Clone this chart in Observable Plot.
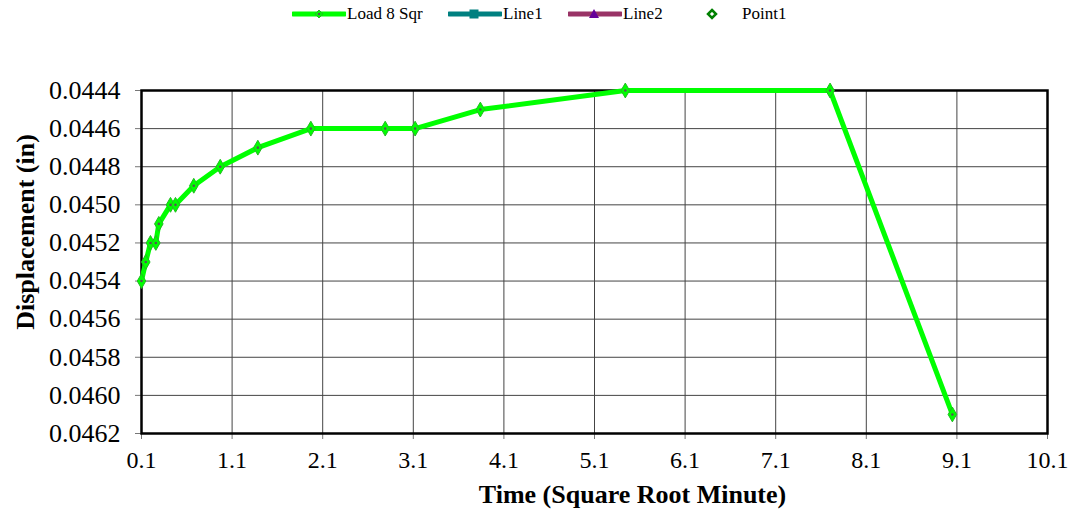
<!DOCTYPE html>
<html>
<head>
<meta charset="utf-8">
<script src="https://cdn.jsdelivr.net/npm/d3@7"></script>
<script src="https://cdn.jsdelivr.net/npm/@observablehq/plot@0.6"></script>
<style>
  html, body { margin: 0; padding: 0; background: #fff; }
  body { width: 1070px; height: 517px; overflow: hidden; font-family: 'Liberation Serif', 'DejaVu Serif', serif; }
  #legend { position: relative; height: 28px; width: 1070px; font-size: 17px; color: #000; }
  .item { position: absolute; top: 2px; height: 24px; display: flex; align-items: center; }
  .item svg { display: block; }
  #chart svg { display: block; }
</style>
</head>
<body>
<div id="legend"></div>
<div id="chart"></div>
<script>
// ---- data ----
const sqrtTime = [0.1, 0.147, 0.199, 0.258, 0.291, 0.42, 0.475, 0.677, 0.969, 1.384, 1.969, 2.79, 3.12, 3.84, 5.44, 7.70, 9.05];
const displacement = [0.0454, 0.0453, 0.0452, 0.0452, 0.0451, 0.0450, 0.0450, 0.0449, 0.0448, 0.0447, 0.0446, 0.0446, 0.0446, 0.0445, 0.0444, 0.0444, 0.0461];
const xTicks = [0.1, 1.1, 2.1, 3.1, 4.1, 5.1, 6.1, 7.1, 8.1, 9.1, 10.1];
const yTicks = [0.0444, 0.0446, 0.0448, 0.0450, 0.0452, 0.0454, 0.0456, 0.0458, 0.0460, 0.0462];
const seriesNames = ["Load 8 Sqr", "Line1", "Line2", "Point1"];
const seriesColors = ["#00ff00", "#008080", "#993366", "#008000"];

const data = sqrtTime.map((x, i) => ({x, y: displacement[i]}));

// ---- legend ----
const legend = document.getElementById("legend");
const legendLeft = [292, 448, 568, 700];
seriesNames.forEach((name, i) => {
  const div = document.createElement("div");
  div.className = "item";
  div.style.left = legendLeft[i] + "px";
  let sw;
  if (i === 3) {
    sw = `<svg width="40" height="20"><path d="M12,6 L16,10 L12,14 L8,10 Z" fill="white" stroke="${seriesColors[i]}" stroke-width="2.5"/></svg>`;
  } else {
    let marker = "";
    if (i === 0) marker = `<path d="M27,6 L31,10 L27,14 L23,10 Z" fill="#00ff00" stroke="#22bb22" stroke-width="1"/><circle cx="27" cy="10" r="1.3" fill="#555"/>`;
    if (i === 1) marker = `<rect x="21.5" y="5.5" width="9" height="9" fill="${seriesColors[i]}"/>`;
    if (i === 2) marker = `<path d="M26,5 L31,14 L21,14 Z" fill="#660099"/>`;
    sw = `<svg width="54" height="20"><line x1="1" y1="10" x2="53" y2="10" stroke="${seriesColors[i]}" stroke-width="5" stroke-linecap="round"/>${marker}</svg>`;
  }
  div.innerHTML = sw + `<span style="margin-left:${i===3?2:1}px">${name}</span>`;
  legend.appendChild(div);
});

// ---- chart ----
const chart = Plot.plot({
  width: 1070,
  height: 489,
  marginTop: 62,
  marginBottom: 84,
  marginLeft: 141,
  marginRight: 23,
  style: {fontFamily: "'Liberation Serif', 'DejaVu Serif', serif", fontSize: "25px", color: "#000", background: "#fff"},
  x: {domain: [0.1, 10.1]},
  y: {domain: [0.0444, 0.0462], reverse: true},
  marks: [
    Plot.gridX(xTicks, {stroke: "#444", strokeOpacity: 1, strokeWidth: 1}),
    Plot.gridY(yTicks, {stroke: "#444", strokeOpacity: 1, strokeWidth: 1}),
    Plot.axisX(xTicks, {tickFormat: d => d.toFixed(1), tickSize: 6, tickPadding: 11, stroke: "#777", fill: "#000", label: null, fontSize: 24}),
    Plot.axisY(yTicks, {tickFormat: d => d.toFixed(4), tickSize: 6, tickPadding: 15, stroke: "#777", fill: "#000", label: null, fontSize: 26}),
    Plot.frame({stroke: "#000", strokeWidth: 2.5}),
    Plot.line(data, {x: "x", y: "y", stroke: "#00ff00", strokeWidth: 5, strokeLinejoin: "round"}),
    Plot.dot(data, {x: "x", y: "y", symbol: "diamond", r: 4.5, fill: "#00ff00", stroke: "#22bb22", strokeWidth: 1}),
    Plot.dot(data, {x: "x", y: "y", r: 1.3, fill: "#555"}),
    Plot.text(["Time (Square Root Minute)"], {frameAnchor: "bottom", dx: 38, dy: 69, fontWeight: "bold", fontSize: 26, fill: "#000"}),
    Plot.text(["Displacement (in)"], {frameAnchor: "left", textAnchor: "middle", dx: -116, dy: -30, rotate: -90, fontWeight: "bold", fontSize: 26, fill: "#000"})
  ]
});
document.getElementById("chart").appendChild(chart);
</script>
</body>
</html>
